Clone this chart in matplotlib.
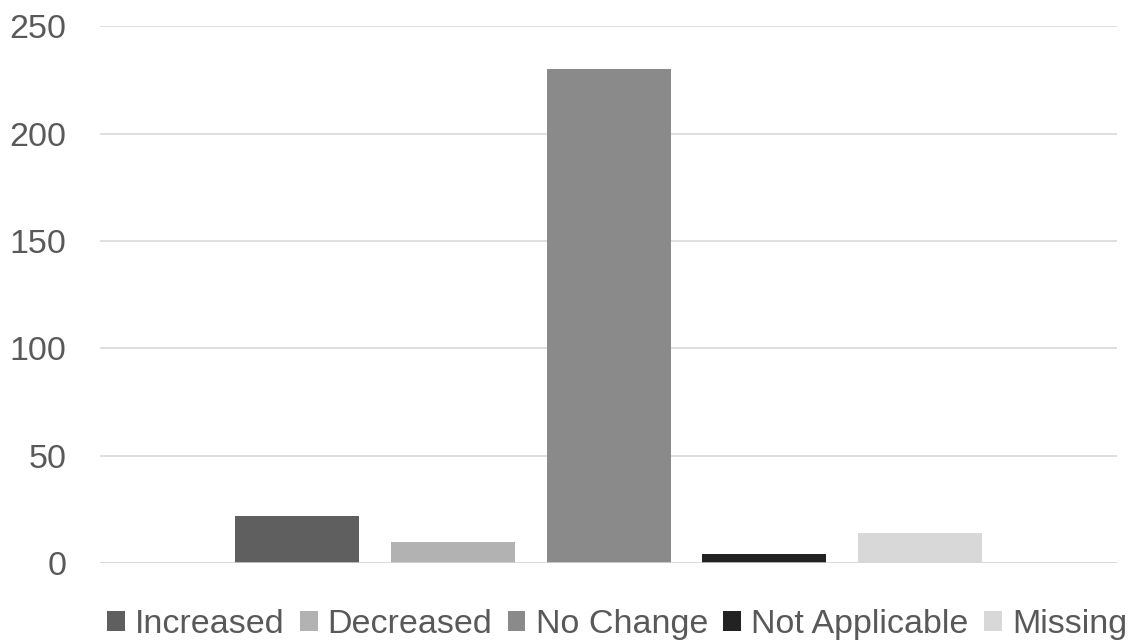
import matplotlib
matplotlib.use("Agg")
import matplotlib.pyplot as plt
from matplotlib.patches import Patch

series = ["Increased", "Decreased", "No Change", "Not Applicable", "Missing"]
counts = [22, 10, 230, 4, 14]
colors = ["#5f5f5f", "#b2b2b2", "#8a8a8a", "#222222", "#d8d8d8"]
y_ticks = [0, 50, 100, 150, 200, 250]

plt.rcParams["font.family"] = ["Liberation Sans", "DejaVu Sans"]
text_color = "#595959"
grid_color = "#d9d9d9"

fig = plt.figure(figsize=(11.3, 6.4), dpi=100)
ax = fig.add_axes([0.0885, 0.1203, 0.9, 0.8387])

positions = list(range(len(series)))
ax.bar(positions, counts, width=0.795, color=colors, zorder=3)

ax.set_xlim(-1.26, len(series) - 1 + 1.26)
ax.set_ylim(0, 250)
ax.set_yticks(y_ticks)
ax.set_yticklabels([str(t) for t in y_ticks])
ax.set_xticks([])

ax.yaxis.grid(True, color=grid_color, linewidth=1.2, zorder=0)
ax.axhline(0, color=grid_color, linewidth=1.8, zorder=4)
for side in ["top", "right", "left", "bottom"]:
    ax.spines[side].set_visible(False)

ax.tick_params(axis="y", length=0, pad=24, labelsize=24.5, labelcolor=text_color)

handles = [Patch(facecolor=c, edgecolor="none") for c in colors]
fig.legend(handles, series, loc="center", bbox_to_anchor=(0.546, 0.024),
           ncol=len(series), frameon=False, fontsize=24.5,
           handlelength=0.52, handleheight=0.52, handletextpad=0.3,
           columnspacing=0.45, labelcolor=text_color, borderpad=0, borderaxespad=0)

fig.savefig("out.png", dpi=100)
